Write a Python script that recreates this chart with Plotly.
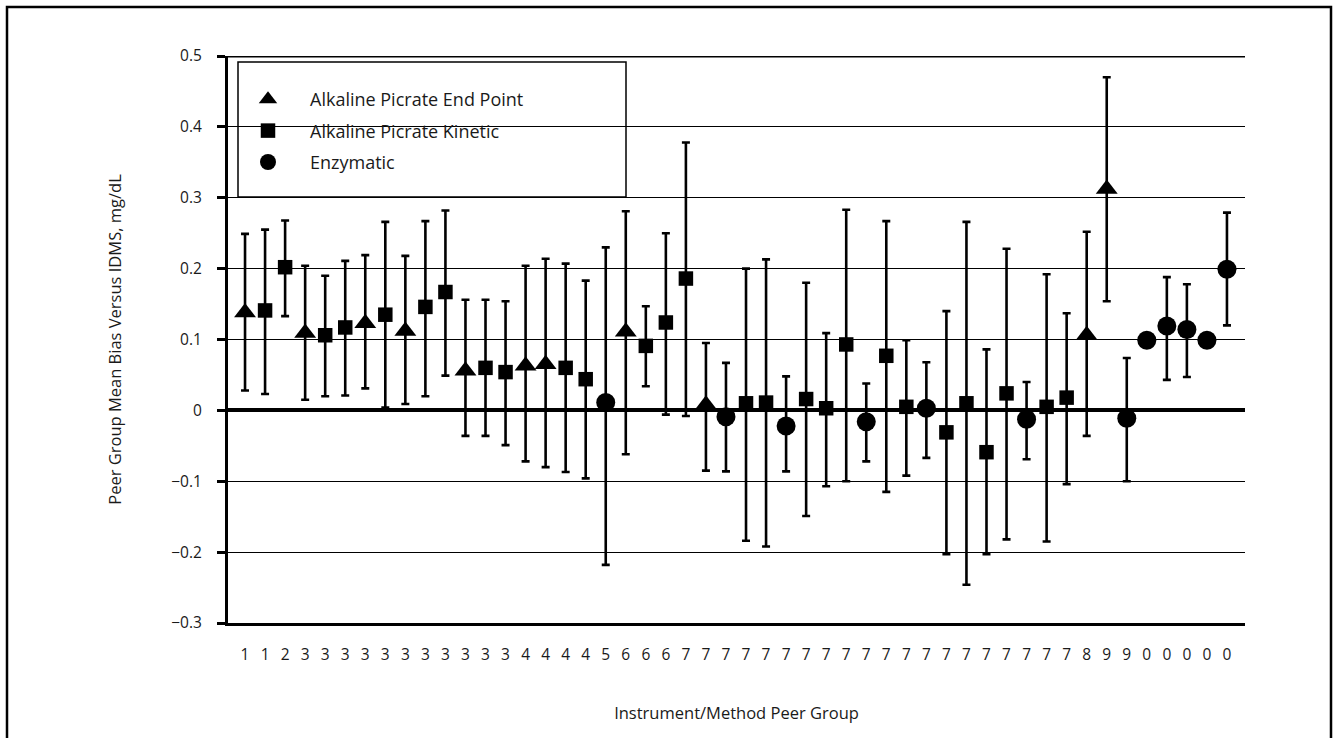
import plotly.graph_objects as go

# ---- data ----
tick_labels = ["1", "1", "2",
               "3", "3", "3", "3", "3", "3", "3", "3", "3", "3", "3",
               "4", "4", "4", "4", "5", "6", "6", "6",
               "7", "7", "7", "7", "7", "7", "7", "7", "7", "7",
               "7", "7", "7", "7", "7", "7", "7", "7", "7", "7",
               "8", "9", "9", "0", "0", "0", "0", "0"]

# A = Alkaline Picrate End Point, K = Alkaline Picrate Kinetic, E = Enzymatic
methods = ["A", "K", "K", "A", "K", "K", "A", "K", "A", "K",
           "K", "A", "K", "K", "A", "A", "K", "K", "E", "A",
           "K", "K", "K", "A", "E", "K", "K", "E", "K", "K",
           "K", "E", "K", "K", "E", "K", "K", "K", "K", "E",
           "K", "K", "A", "A", "E", "E", "E", "E", "E", "E"]

bias = [0.138, 0.141, 0.202, 0.109, 0.106, 0.117, 0.123, 0.135, 0.112, 0.146,
        0.167, 0.056, 0.060, 0.054, 0.063, 0.065, 0.060, 0.044, 0.011, 0.111,
        0.091, 0.124, 0.186, 0.008, -0.009, 0.010, 0.011, -0.022, 0.016, 0.003,
        0.093, -0.016, 0.077, 0.005, 0.003, -0.031, 0.010, -0.059, 0.024, -0.0125,
        0.005, 0.018, 0.106, 0.3125, -0.011, 0.099, 0.119, 0.114, 0.099, 0.199]

upper = [0.249, 0.255, 0.268, 0.204, 0.190, 0.211, 0.219, 0.266, 0.218, 0.267,
         0.282, 0.156, 0.156, 0.154, 0.204, 0.214, 0.207, 0.183, 0.230, 0.281,
         0.147, 0.250, 0.378, 0.095, 0.067, 0.200, 0.213, 0.048, 0.180, 0.109,
         0.283, 0.038, 0.267, 0.099, 0.068, 0.140, 0.266, 0.086, 0.228, 0.040,
         0.192, 0.137, 0.252, 0.470, 0.074, None, 0.188, 0.178, None, 0.279]

lower = [0.028, 0.023, 0.133, 0.015, 0.020, 0.021, 0.031, 0.004, 0.009, 0.020,
         0.049, -0.036, -0.036, -0.049, -0.072, -0.080, -0.087, -0.096, -0.218, -0.062,
         0.034, -0.006, -0.008, -0.085, -0.086, -0.184, -0.192, -0.086, -0.149, -0.107,
         -0.100, -0.072, -0.115, -0.092, -0.067, -0.203, -0.246, -0.203, -0.182, -0.069,
         -0.185, -0.104, -0.036, 0.154, -0.100, None, 0.043, 0.047, None, 0.120]

series_keys = ["A", "K", "E"]
series_names = ["Alkaline Picrate End Point", "Alkaline Picrate Kinetic", "Enzymatic"]

y_tickvals = [-0.3, -0.2, -0.1, 0, 0.1, 0.2, 0.3, 0.4, 0.5]
y_ticktext = ["\u22120.3", "\u22120.2", "\u22120.1", "0", "0.1", "0.2", "0.3", "0.4", "0.5"]

# ---- styles ----
marker_style = {"A": ("triangle-up", 19), "K": ("square", 14.5), "E": ("circle", 19)}
FONT = "Open Sans"
TXT = "#1a1a1a"

W, H = 1339, 738
ML, MR, MT, MB = 228, 94, 56, 115
PW, PH = W - ML - MR, H - MT - MB


def px_x(p):
    return (p - ML) / PW


def px_y(p):
    return (H - MB - p) / PH


fig = go.Figure()
for key, name in zip(series_keys, series_names):
    idx = [i for i, m in enumerate(methods) if m == key]
    ys = [bias[i] for i in idx]
    plus = [None if upper[i] is None else upper[i] - bias[i] for i in idx]
    minus = [None if lower[i] is None else bias[i] - lower[i] for i in idx]
    sym, size = marker_style[key]
    fig.add_trace(go.Scatter(
        x=idx, y=ys, mode="markers", name=name, legendgroup=key,
        marker=dict(symbol=sym, size=size, color="black", line=dict(width=0)),
        error_y=dict(type="data", symmetric=False, array=plus, arrayminus=minus,
                     color="black", thickness=2.6, width=4),
    ))

fig.update_layout(
    width=W, height=H,
    margin=dict(l=ML, r=MR, t=MT, b=MB, pad=0),
    paper_bgcolor="white", plot_bgcolor="white",
    font=dict(family=FONT, size=14, color=TXT),
    showlegend=True,
    legend=dict(
        x=px_x(226), y=px_y(81), xanchor="left", yanchor="top",
        bgcolor="rgba(0,0,0,0)", borderwidth=0,
        font=dict(family=FONT, size=18, color=TXT),
        itemwidth=74, tracegroupgap=5, traceorder="grouped",
    ),
    xaxis=dict(
        range=[-0.85, 49.9],
        tickmode="array", tickvals=list(range(len(tick_labels))), ticktext=tick_labels,
        tickfont=dict(size=15.5, color=TXT), ticks="", ticklabelstandoff=15,
        showgrid=False, zeroline=False,
        showline=True, linecolor="black", linewidth=3,
        title=dict(text="Instrument/Method Peer Group", font=dict(size=16.5, color=TXT), standoff=44),
    ),
    yaxis=dict(
        range=[-0.3, 0.5],
        tickmode="array", tickvals=y_tickvals, ticktext=y_ticktext,
        tickfont=dict(size=15.5, color=TXT),
        ticks="outside", ticklen=8, tickwidth=2.5, tickcolor="black", ticklabelstandoff=12,
        showgrid=True, gridcolor="black", gridwidth=1.2,
        zeroline=True, zerolinecolor="black", zerolinewidth=3.5,
        showline=True, linecolor="black", linewidth=3,
        title=dict(text="Peer Group Mean Bias Versus IDMS, mg/dL", font=dict(size=16.5, color=TXT), standoff=46),
    ),
    shapes=[
        # legend box
        dict(type="rect", xref="paper", yref="paper",
             x0=px_x(238), x1=px_x(626), y0=px_y(197), y1=px_y(62),
             fillcolor="white", line=dict(color="black", width=1.5), layer="between"),
        # top edge line at 0.5
        dict(type="line", xref="paper", yref="y", x0=0, x1=1, y0=0.5, y1=0.5,
             line=dict(color="black", width=3), layer="above"),
        # outer frame
        dict(type="rect", xref="paper", yref="paper",
             x0=px_x(7), x1=px_x(1331), y0=px_y(760), y1=px_y(7),
             fillcolor="rgba(0,0,0,0)", line=dict(color="black", width=2.5), layer="above"),
    ],
)

fig.write_html("out.html", config={"displayModeBar": False},
               post_script="document.body.style.margin='0';document.body.style.overflow='hidden';")
